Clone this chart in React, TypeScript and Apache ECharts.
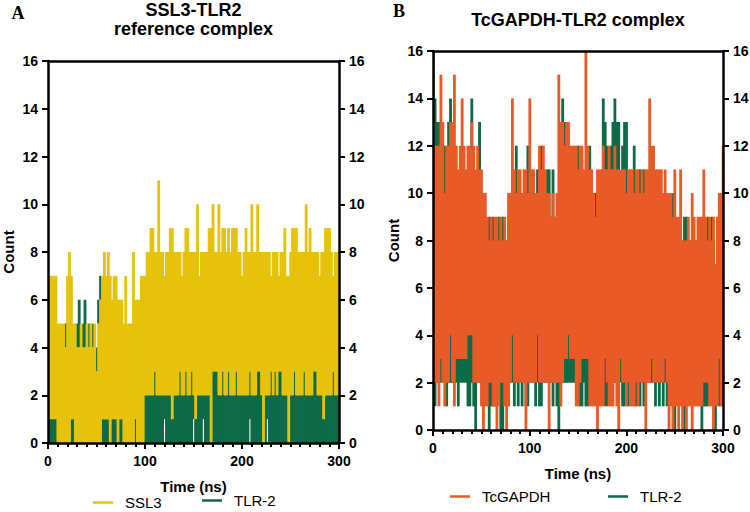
import { useEffect, useRef } from 'react';
import * as echarts from 'echarts';

// Hydrogen-bond counts sampled every 2 ns (t = 0, 2, ..., 300).
// Each sample stores the lowest and highest count reached inside that window.
const STEP_NS = 2;

// Panel A: SSL3-TLR2 reference complex
const ssl3Hi = [
  7, 7, 7, 7, 7, 5, 5, 5, 5, 4,
  7, 8, 7, 5, 5, 4, 4, 5, 4, 4,
  5, 4, 5, 4, 5, 3, 5, 6, 7, 8,
  7, 8, 7, 6, 7, 7, 6, 6, 6, 5,
  7, 5, 5, 5, 8, 6, 6, 6, 7, 7,
  7, 8, 8, 9, 9, 8, 8, 11, 8, 8,
  7, 8, 8, 9, 9, 8, 8, 8, 8, 7,
  8, 9, 9, 8, 8, 8, 8, 10, 7, 8,
  8, 8, 8, 9, 9, 10, 8, 8, 10, 8,
  9, 9, 8, 9, 8, 9, 9, 9, 8, 8,
  7, 8, 9, 8, 8, 10, 8, 8, 10, 8,
  8, 8, 8, 8, 8, 7, 8, 8, 8, 7,
  8, 8, 9, 7, 7, 8, 9, 9, 9, 8,
  8, 8, 8, 10, 8, 9, 8, 8, 8, 8,
  7, 8, 8, 9, 9, 9, 8, 7, 8, 8,
  8,
];
const ssl3Lo = [
  1, 1, 1, 1, 1, 0, 0, 0, 0, 0,
  0, 0, 1, 1, 0, 0, 0, 0, 0, 0,
  0, 0, 0, 0, 0, 0, 0, 0, 1, 1,
  1, 1, 0, 1, 1, 1, 0, 1, 1, 0,
  0, 0, 0, 0, 0, 1, 0, 0, 0, 0,
  2, 2, 2, 2, 2, 3, 2, 2, 2, 2,
  2, 2, 2, 2, 1, 2, 2, 2, 3, 2,
  2, 3, 2, 2, 3, 2, 1, 2, 2, 2,
  2, 2, 2, 2, 0, 3, 3, 3, 2, 2,
  3, 2, 2, 3, 2, 2, 2, 3, 2, 2,
  2, 2, 2, 2, 3, 2, 2, 2, 3, 3,
  2, 0, 2, 2, 2, 3, 2, 3, 2, 3,
  3, 2, 2, 2, 0, 2, 2, 3, 2, 2,
  2, 2, 3, 2, 2, 2, 2, 3, 3, 2,
  2, 2, 1, 2, 2, 2, 2, 3, 2, 2,
  2,
];
const tlr2AHi = [
  1, 1, 1, 1, 1, 1, 1, 1, 1, 5,
  1, 1, 1, 1, 1, 5, 6, 1, 5, 6,
  1, 5, 1, 5, 1, 4, 6, 7, 1, 1,
  1, 1, 1, 1, 1, 1, 1, 1, 1, 1,
  1, 1, 1, 1, 1, 1, 1, 1, 1, 1,
  2, 2, 2, 2, 2, 3, 2, 2, 2, 2,
  2, 2, 2, 2, 2, 2, 2, 2, 3, 2,
  2, 3, 2, 2, 3, 2, 2, 2, 2, 2,
  2, 2, 2, 2, 2, 3, 3, 3, 2, 2,
  3, 2, 2, 3, 2, 2, 2, 3, 2, 2,
  2, 2, 2, 2, 3, 2, 2, 2, 3, 3,
  2, 2, 2, 2, 2, 3, 2, 3, 2, 3,
  3, 2, 2, 2, 2, 2, 2, 3, 2, 2,
  2, 2, 3, 2, 2, 2, 2, 3, 3, 2,
  2, 2, 2, 2, 2, 2, 2, 3, 2, 2,
  2,
];
const tlr2ALo = [
  0, 0, 0, 0, 0, 0, 0, 0, 0, 4,
  0, 0, 0, 0, 0, 4, 4, 0, 4, 4,
  0, 4, 0, 4, 0, 3, 5, 6, 0, 0,
  0, 0, 0, 0, 0, 0, 0, 0, 0, 0,
  0, 0, 0, 0, 0, 0, 0, 0, 0, 0,
  0, 0, 0, 0, 0, 0, 0, 0, 0, 0,
  1, 0, 0, 0, 0, 0, 0, 0, 0, 0,
  0, 0, 0, 0, 0, 1, 0, 0, 0, 0,
  1, 0, 0, 0, 0, 0, 0, 0, 0, 0,
  0, 0, 0, 0, 0, 0, 0, 0, 0, 0,
  0, 0, 0, 0, 1, 0, 0, 0, 0, 0,
  0, 0, 0, 1, 0, 0, 0, 0, 0, 0,
  0, 0, 0, 0, 0, 0, 0, 0, 0, 0,
  0, 0, 0, 0, 0, 0, 0, 0, 0, 0,
  0, 0, 0, 0, 0, 0, 0, 0, 0, 0,
  0,
];

// Panel B: TcGAPDH-TLR2 complex
const gapdhHi = [
  12, 12, 12, 12, 15, 13, 10, 12, 12, 13,
  13, 15, 12, 11, 12, 14, 12, 11, 12, 12,
  13, 12, 11, 12, 11, 11, 10, 10, 9, 8,
  9, 8, 9, 9, 8, 9, 8, 9, 8, 10,
  10, 14, 11, 10, 11, 11, 10, 11, 11, 10,
  14, 11, 11, 10, 10, 12, 11, 12, 11, 10,
  10, 9, 10, 9, 10, 15, 13, 13, 12, 13,
  13, 12, 12, 12, 12, 11, 12, 12, 11, 16,
  12, 11, 11, 10, 9, 11, 11, 11, 12, 11,
  11, 12, 11, 11, 12, 11, 11, 11, 11, 11,
  10, 11, 11, 11, 10, 11, 11, 10, 11, 10,
  11, 11, 14, 12, 12, 11, 11, 11, 11, 10,
  11, 10, 10, 10, 9, 11, 9, 9, 11, 8,
  8, 8, 9, 8, 10, 9, 8, 9, 9, 9,
  11, 9, 8, 9, 8, 9, 7, 9, 10, 10,
  12,
];
const gapdhLo = [
  3, 2, 2, 1, 3, 2, 1, 2, 2, 4,
  2, 1, 3, 3, 3, 3, 3, 3, 4, 4,
  4, 2, 2, 2, 2, 1, 0, 1, 1, 2,
  2, 1, 1, 0, 1, 2, 2, 1, 0, 1,
  2, 4, 2, 2, 2, 2, 2, 2, 0, 2,
  2, 2, 2, 2, 4, 2, 2, 2, 2, 2,
  0, 2, 2, 2, 2, 2, 1, 2, 3, 3,
  4, 3, 3, 3, 1, 1, 2, 3, 3, 3,
  3, 1, 1, 1, 1, 0, 1, 1, 1, 3,
  2, 1, 1, 1, 2, 1, 0, 3, 2, 2,
  1, 2, 1, 1, 1, 2, 1, 2, 2, 2,
  0, 2, 2, 3, 2, 2, 2, 2, 2, 2,
  3, 2, 0, 1, 0, 1, 1, 0, 1, 0,
  1, 0, 1, 1, 0, 1, 1, 1, 1, 1,
  2, 2, 2, 1, 1, 0, 1, 1, 3, 1,
  1,
];
const tlr2BHi = [
  16, 14, 13, 13, 12, 10, 12, 10, 13, 14,
  13, 10, 10, 10, 10, 10, 10, 10, 10, 10,
  14, 10, 10, 10, 13, 10, 9, 9, 8, 9,
  8, 9, 8, 8, 9, 8, 9, 8, 8, 9,
  9, 9, 9, 12, 10, 10, 10, 10, 10, 12,
  10, 10, 10, 10, 11, 10, 12, 10, 10, 11,
  11, 9, 11, 9, 9, 10, 10, 14, 13, 10,
  10, 10, 10, 10, 11, 12, 10, 10, 10, 10,
  10, 12, 10, 9, 10, 10, 10, 10, 14, 13,
  12, 10, 12, 13, 14, 13, 13, 10, 12, 13,
  13, 10, 10, 10, 12, 10, 10, 11, 10, 11,
  10, 10, 10, 10, 10, 10, 10, 10, 10, 9,
  10, 9, 9, 9, 10, 9, 8, 8, 9, 8,
  9, 9, 8, 8, 8, 8, 8, 8, 8, 8,
  8, 8, 9, 8, 9, 8, 7, 8, 8, 8,
  9,
];
const tlr2BLo = [
  2, 1, 2, 2, 2, 2, 2, 1, 2, 2,
  2, 2, 2, 1, 2, 2, 2, 2, 1, 1,
  2, 1, 0, 2, 2, 2, 2, 2, 2, 0,
  1, 1, 1, 2, 2, 0, 0, 2, 2, 1,
  2, 2, 1, 2, 1, 2, 1, 2, 1, 1,
  2, 2, 2, 1, 2, 1, 1, 2, 2, 2,
  2, 2, 1, 2, 1, 0, 1, 2, 2, 2,
  2, 2, 2, 2, 2, 2, 1, 1, 2, 1,
  1, 2, 2, 2, 2, 2, 2, 2, 2, 1,
  1, 2, 2, 2, 2, 2, 2, 2, 1, 1,
  2, 1, 2, 2, 2, 1, 2, 1, 2, 1,
  2, 2, 2, 2, 2, 1, 2, 1, 2, 1,
  2, 1, 2, 2, 2, 0, 2, 2, 2, 2,
  0, 2, 2, 2, 2, 2, 2, 2, 2, 0,
  1, 1, 1, 2, 2, 2, 0, 2, 1, 2,
  2,
];

const TIME_TICKS = { min: 0, max: 300, interval: 100 };
const COUNT_TICKS = { min: 0, max: 16, interval: 2 };

const YELLOW = '#E6C20B';
const GREEN = '#0D6B47';
const ORANGE = '#E85A27';
const FONT = '"Liberation Sans", Arial, Helvetica, sans-serif';

const toBands = (lo: number[], hi: number[]) =>
  hi.map((h, i) => [i * STEP_NS, lo[i], h]);

// Each sample is drawn as a vertical strip spanning its min..max count;
// strips overlap slightly so no hairline seams appear between them.
const bandRenderer = (color: string) => (params: any, api: any) => {
  const t = api.value(0);
  const lo = api.value(1);
  const hi = api.value(2);
  const a = api.coord([t - STEP_NS / 2, hi]);
  const b = api.coord([t + STEP_NS / 2, lo]);
  const cs = params.coordSys;
  const shape = echarts.graphic.clipRectByRect(
    { x: a[0] - 0.3, y: a[1], width: b[0] - a[0] + 0.9, height: b[1] - a[1] },
    { x: cs.x, y: cs.y, width: cs.width, height: cs.height }
  );
  if (!shape) return null;
  return { type: 'rect', shape, style: { fill: color } };
};

const bandSeries = (
  name: string,
  color: string,
  lo: number[],
  hi: number[],
  panel: number
) => ({
  type: 'custom',
  name,
  xAxisIndex: panel,
  yAxisIndex: panel * 2,
  itemStyle: { color },
  encode: { x: 0, y: [1, 2] },
  data: toBands(lo, hi),
  renderItem: bandRenderer(color),
  silent: true,
});

const black = '#000';
const labelStyle = { fontFamily: FONT, fontWeight: 'bold', fontSize: 14, color: black };
const nameStyle = { fontFamily: FONT, fontWeight: 'bold', fontSize: 15, color: black };
const lineStyle = { color: black, width: 2.5 };

const timeAxis = (gridIndex: number) => ({
  type: 'value',
  gridIndex,
  position: 'bottom',
  ...TIME_TICKS,
  z: 10,
  name: 'Time (ns)',
  nameLocation: 'middle',
  nameGap: 36,
  nameTextStyle: nameStyle,
  axisLine: { show: true, onZero: false, lineStyle },
  axisTick: { show: true, length: 6, lineStyle: { color: black, width: 2 } },
  minorTick: { show: true, splitNumber: 10, length: 4, lineStyle: { color: black, width: 2 } },
  axisLabel: { ...labelStyle, margin: 11 },
  splitLine: { show: false },
  minorSplitLine: { show: false },
});

const topFrame = (gridIndex: number) => ({
  type: 'value',
  gridIndex,
  position: 'top',
  ...TIME_TICKS,
  z: 10,
  axisLine: { show: true, onZero: false, lineStyle },
  axisTick: { show: false },
  axisLabel: { show: false },
  splitLine: { show: false },
});

const countAxis = (gridIndex: number, side: 'left' | 'right') => ({
  type: 'value',
  gridIndex,
  position: side,
  ...COUNT_TICKS,
  z: 10,
  name: side === 'left' ? 'Count' : '',
  nameLocation: 'middle',
  nameGap: 32,
  nameTextStyle: nameStyle,
  axisLine: { show: true, onZero: false, lineStyle },
  axisTick: { show: true, length: 6, lineStyle: { color: black, width: 2 } },
  axisLabel: { ...labelStyle, margin: 10 },
  splitLine: { show: false },
});

const legendBase = {
  padding: 0,
  icon: 'rect',
  itemWidth: 20,
  itemHeight: 2.5,
  selectedMode: false,
  textStyle: { fontFamily: FONT, fontSize: 15, color: black, padding: [0, 0, 0, 7] },
};

const text = (x: number, y: number, str: string, font: string) => ({
  type: 'text',
  x,
  y,
  silent: true,
  style: {
    text: str,
    font,
    fill: black,
    textAlign: 'center',
    textVerticalAlign: 'middle',
    align: 'center',
    verticalAlign: 'middle',
  },
});

export default function App() {
  const ref = useRef<HTMLDivElement>(null);

  useEffect(() => {
    if (!ref.current) return;
    const chart = echarts.init(ref.current, undefined, { renderer: 'svg' });
    chart.setOption({
      animation: false,
      backgroundColor: '#fff',
      grid: [
        { left: 48, top: 61, width: 291, height: 382, show: false, outerBoundsMode: 'none' },
        { left: 433, top: 51, width: 290, height: 379, show: false, outerBoundsMode: 'none' },
      ],
      xAxis: [timeAxis(0), timeAxis(1), topFrame(0), topFrame(1)],
      yAxis: [countAxis(0, 'left'), countAxis(0, 'right'), countAxis(1, 'left'), countAxis(1, 'right')],
      legend: [
        { ...legendBase, data: ['SSL3'], left: 93, top: 495 },
        { ...legendBase, data: ['TLR-2'], left: 202, top: 493 },
        { ...legendBase, data: ['TcGAPDH'], left: 450, top: 489 },
        { ...legendBase, data: ['TLR-2'], left: 608, top: 489 },
      ],
      graphic: [
        text(18, 13, 'A', 'bold 18px "Liberation Serif", "Times New Roman", serif'),
        text(399, 11, 'B', 'bold 18px "Liberation Serif", "Times New Roman", serif'),
        text(193.5, 10, 'SSL3-TLR2', `bold 18px ${FONT}`),
        text(193.5, 29, 'reference complex', `bold 18px ${FONT}`),
        text(578, 20, 'TcGAPDH-TLR2 complex', `bold 18px ${FONT}`),
      ],
      series: [
        bandSeries('TLR-2', GREEN, tlr2ALo, tlr2AHi, 0),
        bandSeries('SSL3', YELLOW, ssl3Lo, ssl3Hi, 0),
        bandSeries('TLR-2', GREEN, tlr2BLo, tlr2BHi, 1),
        bandSeries('TcGAPDH', ORANGE, gapdhLo, gapdhHi, 1),
      ],
    });
    return () => chart.dispose();
  }, []);

  return (
    <div
      ref={ref}
      style={{ position: 'fixed', left: 0, top: 0, width: 750, height: 512, background: '#fff' }}
    />
  );
}
